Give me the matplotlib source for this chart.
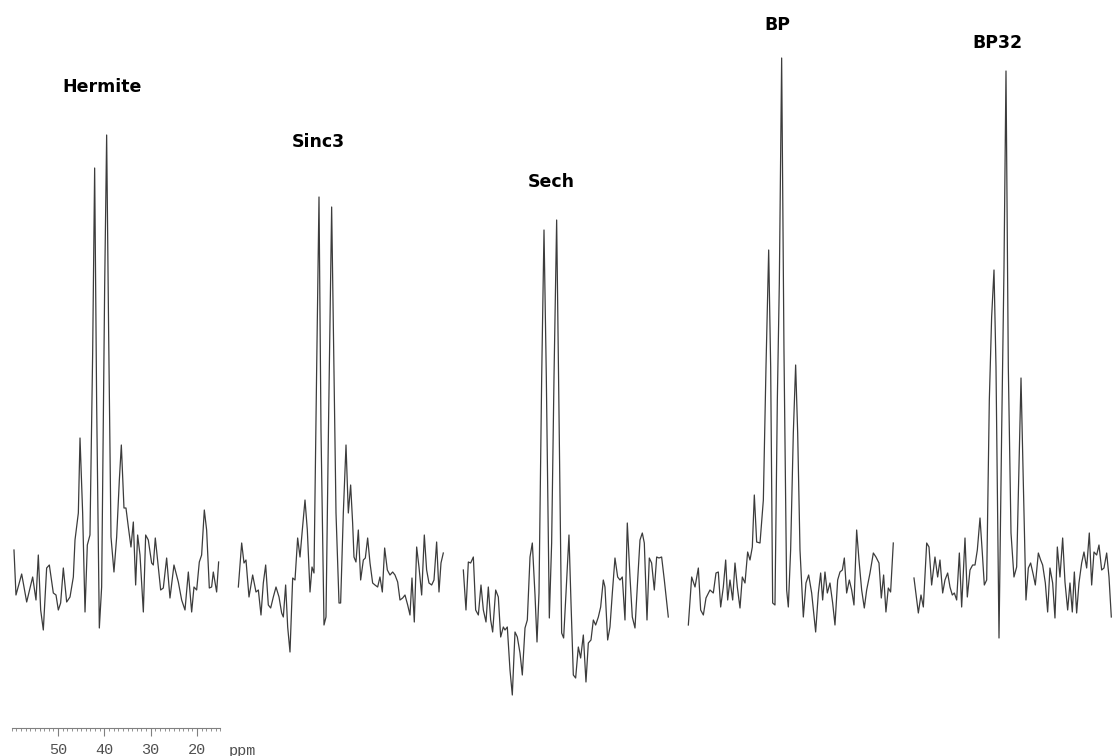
import matplotlib.pyplot as plt
from matplotlib.ticker import FixedLocator, MultipleLocator

names = ["Hermite", "Sinc3", "Sech", "BP", "BP32"]

hermite_ppm = [59.5, 59.07, 57.84, 56.76, 55.47, 54.75, 54.25, 53.74, 53.17, 52.45,
               51.87, 51.01, 50.43, 49.93, 49.43, 48.85, 48.13, 47.41, 46.69, 46.33,
               45.61, 45.25, 44.68, 44.17, 43.67, 43.10, 42.52, 42.09, 41.66, 41.08,
               40.58, 39.93, 39.50, 39.07, 38.56, 37.92, 37.34, 36.76, 36.33, 35.76,
               35.33, 34.82, 34.25, 33.74, 33.24, 32.81, 32.30, 31.58, 31.08, 30.51,
               29.79, 29.43, 29.00, 28.35, 27.84, 27.27, 26.55, 25.83, 24.97, 24.03,
               23.31, 22.59, 21.87, 21.15, 20.65, 20.07, 19.50, 19.00, 18.42, 17.92,
               17.34, 16.84, 16.48, 15.76, 15.33]
hermite_int = [40, -5, 16, -12, 13, -10, 35, -20, -40, 22,
               25, -3, -5, -20, -13, 22, -12, -7, 13, 50,
               77, 152, 77, -22, 45, 55, 237, 422, 187, -38,
               3, 303, 455, 257, 53, 18, 53, 110, 145, 82,
               82, 63, 43, 68, 5, 55, 35, -22, 55, 50,
               27, 25, 52, 23, 0, 2, 32, -8, 25, 8,
               -10, -20, 18, -22, 3, 0, 28, 35, 80, 60,
               2, 3, 18, -2, 28]

sinc3_ppm = [59.64, 58.92, 58.42, 57.99, 57.34, 56.55, 55.83, 55.32, 54.75, 54.25,
             53.74, 53.17, 52.66, 52.09, 51.51, 50.86, 50.29, 49.93, 49.43, 48.99,
             48.49, 47.91, 47.41, 46.84, 46.33, 45.83, 45.25, 44.75, 44.17, 43.74,
             43.31, 42.73, 42.23, 41.80, 41.15, 40.72, 40.14, 39.50, 39.07, 38.56,
             37.91, 37.56, 36.98, 36.40, 35.90, 35.40, 34.97, 34.68, 34.25, 33.74,
             33.24, 32.66, 32.23, 31.73, 31.22, 30.65, 30.15, 29.57, 29.07, 28.56,
             28.06, 27.48, 26.91, 26.33, 25.83, 25.25, 24.75, 24.17, 23.67, 23.09,
             22.59, 22.16, 21.66, 21.15, 20.65, 20.07, 19.50, 19.00, 18.49, 17.91,
             17.41, 16.84, 16.33, 15.90, 15.40]
sinc3_int = [3, 47, 27, 30, -7, 15, -2, 0, -25, 7,
             25, -15, -18, -7, 3, -7, -23, -27, 5, -37,
             -62, 12, 10, 52, 33, 60, 90, 60, -2, 23,
             17, 223, 393, 160, -35, -27, 177, 383, 243, 77,
             -13, -13, 77, 145, 77, 105, 67, 33, 28, 60,
             10, 30, 32, 52, 27, 7, 5, 3, 13, -2,
             42, 20, 15, 18, 15, 8, -10, -8, -5, -15,
             -25, 12, -32, 43, 23, -5, 55, 20, 7, 5,
             10, 48, -2, 27, 37]

sech_ppm = [59.64, 59.07, 58.56, 58.06, 57.48, 56.98, 56.40, 55.83, 55.32, 54.75,
            54.25, 53.74, 53.31, 52.66, 52.09, 51.58, 51.01, 50.65, 50.15, 49.57,
            49.07, 48.49, 47.99, 47.41, 46.91, 46.33, 45.83, 45.25, 44.75, 44.17,
            43.74, 43.31, 42.73, 42.23, 41.73, 41.08, 40.58, 40.07, 39.50, 39.00,
            38.42, 37.99, 37.48, 36.84, 36.40, 35.90, 35.40, 34.82, 34.32, 33.74,
            33.17, 32.66, 32.09, 31.58, 31.08, 30.50, 30.00, 29.43, 29.07, 28.49,
            27.99, 27.48, 26.91, 26.33, 25.83, 25.33, 24.75, 24.25, 23.67, 23.17,
            22.59, 22.01, 21.51, 21.01, 20.58, 20.00, 19.50, 19.00, 18.42, 17.91,
            17.41, 16.84, 16.26, 15.40]
sech_int = [20, -20, 28, 27, 33, -20, -25, 5, -20, -32,
            3, -30, -42, 0, -7, -47, -37, -40, -37, -80,
            -105, -42, -47, -63, -85, -38, -30, 33, 47, -5,
            -52, -3, 213, 360, 213, -28, 47, 213, 370, 180,
            -43, -48, -3, 55, -13, -85, -88, -57, -68, -45,
            -92, -53, -50, -30, -35, -27, -17, 10, 3, -50,
            -37, -3, 32, 13, 10, 13, -30, 67, 13, -27,
            -38, 10, 50, 57, 47, -30, 32, 27, 0, 33,
            32, 33, 10, -27]

bp_ppm = [59.64, 58.92, 58.20, 57.48, 56.98, 56.40, 55.83, 54.97, 54.25, 53.67,
          53.17, 52.66, 52.09, 51.58, 51.15, 50.65, 50.07, 49.57, 49.07, 48.49,
          47.99, 47.41, 46.84, 46.33, 45.83, 45.40, 44.89, 44.17, 43.45, 42.88,
          42.30, 41.87, 41.44, 40.94, 40.43, 40.00, 39.50, 39.00, 38.42, 38.06,
          37.56, 36.98, 36.48, 36.04, 35.54, 34.82, 34.25, 33.67, 33.02, 32.16,
          31.58, 31.08, 30.65, 30.15, 29.64, 29.07, 28.49, 27.99, 27.41, 26.91,
          26.40, 25.97, 25.47, 24.89, 24.39, 23.89, 23.31, 22.81, 22.23, 21.66,
          21.15, 20.43, 19.71, 19.14, 18.49, 17.99, 17.49, 16.99, 16.48, 15.98,
          15.40]
bp_int = [-35, 13, 3, 22, -20, -25, -8, 0, -3, 17,
          18, -17, 3, 30, -10, 10, -10, 27, 3, -18,
          13, 7, 38, 30, 43, 95, 48, 47, 90, 223,
          340, 223, -13, -15, 190, 307, 532, 240, 0, -17,
          40, 157, 225, 157, 40, -27, 7, 15, -3, -42,
          -3, 17, -10, 18, -3, 7, -13, -35, 10, 18,
          20, 32, -3, 10, 0, -15, 60, 30, 0, -18,
          0, 17, 37, 33, 27, -8, 15, -22, 2, -2,
          47]

bp32_ppm = [59.50, 58.56, 57.99, 57.48, 56.76, 56.26, 55.69, 54.97, 54.39, 53.89,
            53.31, 52.81, 52.23, 51.73, 51.23, 50.79, 50.29, 49.71, 49.21, 48.49,
            47.99, 47.41, 46.84, 46.33, 45.83, 45.25, 44.75, 44.32, 43.81, 43.24,
            42.74, 42.23, 41.80, 41.15, 40.58, 40.07, 39.64, 39.14, 38.56, 37.92,
            37.34, 36.84, 36.40, 35.90, 35.33, 34.82, 34.32, 33.74, 33.31, 32.66,
            32.16, 31.73, 31.15, 30.65, 30.15, 29.57, 29.07, 28.56, 27.99, 27.41,
            26.91, 26.33, 25.83, 25.33, 24.89, 24.39, 23.89, 23.31, 22.81, 22.23,
            21.66, 21.15, 20.65, 20.07, 19.57, 18.99, 18.49, 17.91, 17.41, 16.91]
bp32_int = [12, -23, -5, -17, 47, 43, 5, 33, 13, 30,
            -3, 10, 17, 3, -5, -3, -10, 37, -17, 52,
            -7, 20, 25, 25, 40, 72, 37, 5, 10, 190,
            273, 320, 223, -48, 157, 323, 519, 223, 57, 13,
            23, 123, 212, 107, -10, 22, 27, 15, 5, 37,
            30, 25, 7, -22, 22, 7, -28, 43, 13, 52,
            8, -20, 7, -22, 18, -23, 7, 27, 38, 22,
            57, 5, 38, 35, 45, 20, 22, 37, 13, -27]

spectra = [(hermite_ppm, hermite_int), (sinc3_ppm, sinc3_int), (sech_ppm, sech_int),
           (bp_ppm, bp_int), (bp32_ppm, bp32_int)]

scale_major = [50, 40, 30, 20]

W, H = 1112, 756
fig = plt.figure(figsize=(W / 100, H / 100), dpi=100)
fig.patch.set_facecolor("white")

# every spectrum shares the same ppm window, shifted 225 px to the right
px_per_ppm = 4.633
x0 = 58 - (61 - 50) * px_per_ppm
ax_w = (61 - 14) * px_per_ppm
label_pos = [(40.4, 503), (42.3, 448), (40.7, 408), (40.4, 565), (41.4, 547)]

for k, ((ppm, inten), name) in enumerate(zip(spectra, names)):
    ax = fig.add_axes([(x0 + 225 * k) / W, 46 / H, ax_w / W, 700 / H])
    ax.plot(ppm, inten, color="#3c3c3c", lw=0.9)
    ax.set_xlim(61, 14)
    ax.set_ylim(-120, 580)
    ax.axis("off")
    lx, ly = label_pos[k]
    ax.text(lx, ly, name, ha="center", va="center", fontsize=12.5,
            fontweight="bold", family="DejaVu Sans", color="black")

# ppm ruler under the first spectrum
rax = fig.add_axes([11.7 / W, (H - 728) / H, 208.5 / W, 0.0005])
rax.set_xlim(60, 15)
for s in ["top", "left", "right"]:
    rax.spines[s].set_visible(False)
rax.spines["bottom"].set_color("#808080")
rax.spines["bottom"].set_linewidth(0.8)
rax.set_yticks([])
rax.xaxis.set_major_locator(FixedLocator(scale_major))
rax.xaxis.set_minor_locator(MultipleLocator(1))
rax.tick_params(which="major", length=5.5, width=0.8, color="#808080",
                labelsize=11, labelcolor="#505050", pad=5)
rax.tick_params(which="minor", length=2.2, width=0.6, color="#808080")
for lbl in rax.get_xticklabels():
    lbl.set_family("Liberation Mono")
fig.text(229 / W, (H - 751) / H, "ppm", fontsize=11, color="#505050",
         family="Liberation Mono", ha="left", va="center")

fig.savefig("out.png", dpi=100, facecolor="white")
